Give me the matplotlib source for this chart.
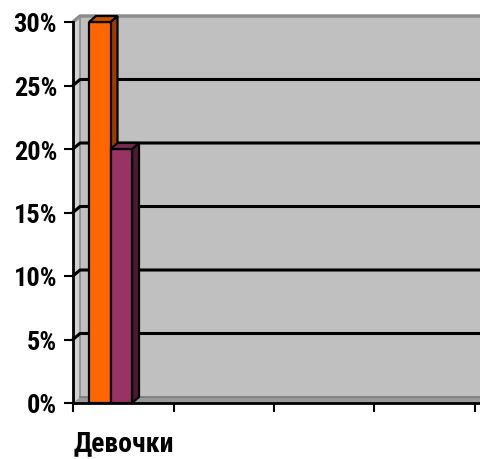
import matplotlib
matplotlib.use("Agg")
import matplotlib.pyplot as plt
from matplotlib.patches import Polygon, Rectangle

# Chart data
categories = ["Девочки", "", "", ""]
series_values = [30, 20]          # percent, one bar per series in the first category
series_colors = ["#FF6600", "#993366"]
side_colors = ["#993D00", "#4D1A33"]
top_colors = ["#CC5200", "#7A2952"]
y_ticks = [0, 5, 10, 15, 20, 25, 30]
y_tick_labels = ["0%", "5%", "10%", "15%", "20%", "25%", "30%"]

W, H, DPI = 481, 460, 100
fig = plt.figure(figsize=(W / DPI, H / DPI), dpi=DPI)
fig.patch.set_facecolor("white")

left_px, right_px, bottom_px, top_px = 73, 481, 404, 23
ax = fig.add_axes([left_px / W, 1 - bottom_px / H,
                   (right_px - left_px) / W, (bottom_px - top_px) / H])

cat_px = 100.5
xmax = (right_px - left_px) / cat_px
ymax = 30
px_per_pct = (bottom_px - top_px) / ymax
DX = 7 / cat_px              # depth offset, x
DY = 6 / px_per_pct          # depth offset, y

ax.set_xlim(0, xmax)
ax.set_ylim(0, ymax)
ax.set_facecolor("none")

wall = "#C0C0C0"
side_wall = "#D2D2D2"
floor = "#9A9A9A"
edge_gray = "#8C8C8C"

# back wall
ax.add_patch(Rectangle((DX, DY), xmax, ymax, facecolor=wall,
                       edgecolor="none", clip_on=False, zorder=0))
# left wall
ax.add_patch(Polygon([(0, 0), (DX, DY), (DX, ymax + DY), (0, ymax)],
                     closed=True, facecolor=side_wall, edgecolor="none",
                     clip_on=False, zorder=0))
# floor
ax.add_patch(Polygon([(0, 0), (xmax, 0), (xmax + DX, DY), (DX, DY)],
                     closed=True, facecolor=floor, edgecolor="none",
                     clip_on=False, zorder=0))
# wall edges
ax.plot([DX, DX], [DY, ymax + DY], color=edge_gray, lw=1.2, zorder=1, clip_on=False)
ax.plot([0, DX, xmax + DX], [ymax, ymax + DY, ymax + DY], color=edge_gray,
        lw=2.5, zorder=1, clip_on=False, solid_capstyle="butt")
ax.plot([DX, xmax + DX], [DY, DY], color="#7A7A7A", lw=1.2, zorder=1, clip_on=False)

# gridlines on the walls
for v in y_ticks[1:-1]:
    ax.plot([0, DX, xmax + DX], [v, v + DY, v + DY], color="black",
            lw=2.2, zorder=2, clip_on=False)

# bars
bar_w = 21.5 / cat_px
bar_lefts = [16 / cat_px, 16 / cat_px + bar_w]
ax.bar(bar_lefts, series_values, width=bar_w, align="edge",
       color=series_colors, edgecolor="black", linewidth=1.6, zorder=4)
for x0, v, sc, tc in zip(bar_lefts, series_values, side_colors, top_colors):
    x1 = x0 + bar_w
    ax.add_patch(Polygon([(x1, 0), (x1 + DX, DY), (x1 + DX, v + DY), (x1, v)],
                         closed=True, facecolor=sc, edgecolor="black",
                         lw=1.6, zorder=3, clip_on=False))
    ax.add_patch(Polygon([(x0, v), (x0 + DX, v + DY), (x1 + DX, v + DY), (x1, v)],
                         closed=True, facecolor=tc, edgecolor="black",
                         lw=1.6, zorder=5, clip_on=False))

# axes
for s in ["top", "right"]:
    ax.spines[s].set_visible(False)
for s in ["left", "bottom"]:
    ax.spines[s].set_linewidth(2)
    ax.spines[s].set_color("black")
    ax.spines[s].set_zorder(6)

font = ["Roboto Condensed", "Fira Sans Condensed", "DejaVu Sans"]
ax.set_yticks(y_ticks)
ax.set_yticklabels(y_tick_labels, family=font, fontweight="bold", fontsize=19)
ax.tick_params(axis="y", length=6.5, width=1.5, pad=5, color="black")

ax.set_xticks(range(len(categories) + 1))
ax.set_xticklabels([])
ax.tick_params(axis="x", which="major", length=6.5, width=1.5, color="black")
ax.set_xticks([i + 0.5 for i in range(len(categories))], minor=True)
ax.set_xticklabels(categories, minor=True, family=font, fontweight="bold", fontsize=20)
ax.tick_params(axis="x", which="minor", length=0, pad=19)

fig.savefig("out.png", dpi=DPI, facecolor="white")
